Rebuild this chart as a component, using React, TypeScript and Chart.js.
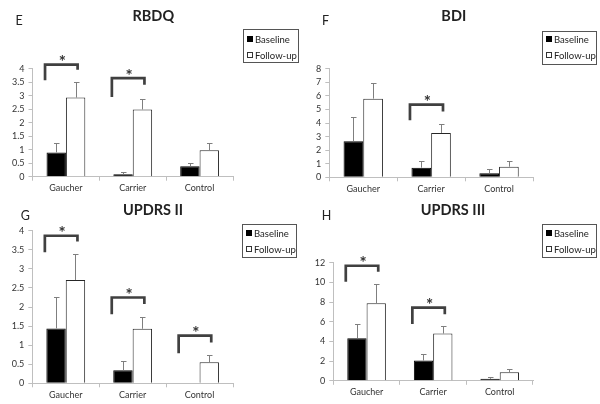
import React, { useEffect, useRef } from "react";
import { Chart, registerables } from "chart.js";

Chart.register(...registerables);

const categories = ["Gaucher", "Carrier", "Control"];
const seriesNames = ["Baseline", "Follow-up"];

// RBDQ
const rbdqBaseline = [0.9, 0.09, 0.39];
const rbdqBaselineSd = [0.33, 0.09, 0.13];
const rbdqFollowup = [2.93, 2.49, 0.98];
const rbdqFollowupSd = [0.56, 0.4, 0.27];
const rbdqBrackets = [
  [0, 4.15, 3.57, 3.96],
  [1, 3.65, 2.95, 3.41],
];

// BDI
const bdiBaseline = [2.66, 0.71, 0.29];
const bdiBaselineSd = [1.81, 0.46, 0.32];
const bdiFollowup = [5.8, 3.27, 0.78];
const bdiFollowupSd = [1.17, 0.69, 0.39];
const bdiBrackets = [[1, 5.36, 4.2, 4.86]];

// UPDRS II
const updrs2Baseline = [1.44, 0.34, 0];
const updrs2BaselineSd = [0.83, 0.24, 0];
const updrs2Followup = [2.71, 1.43, 0.55];
const updrs2FollowupSd = [0.68, 0.32, 0.18];
const updrs2Brackets = [
  [0, 3.87, 3.44, 3.72],
  [1, 2.25, 1.81, 2.08],
  [2, 1.25, 0.79, 1.07],
];

// UPDRS III
const updrs3Baseline = [4.33, 2.06, 0.2];
const updrs3BaselineSd = [1.42, 0.68, 0.14];
const updrs3Followup = [7.88, 4.8, 0.88];
const updrs3FollowupSd = [1.92, 0.78, 0.31];
const updrs3Brackets = [
  [0, 11.69, 10.07, 11.08],
  [1, 7.43, 5.78, 6.76],
];

const FONT = "Lato, 'Open Sans', sans-serif";
const Y_W = 24;
const X_H = 20;

type PanelDef = {
  letter: string;
  title: string;
  x: number;
  y: number;
  w: number;
  h: number;
  area: { left: number; right: number; top: number; bottom: number };
  yMax: number;
  yStep: number;
  baseline: number[];
  baselineSd: number[];
  followup: number[];
  followupSd: number[];
  brackets: number[][];
  letterPos: [number, number];
  titlePos: [number, number];
  legendBox: [number, number, number, number];
  legendRows: [number, number];
};

const panels: PanelDef[] = [
  {
    letter: "E", title: "RBDQ", x: 0, y: 0, w: 300, h: 200,
    area: { left: 32.5, right: 233, top: 68.7, bottom: 176.7 },
    yMax: 4, yStep: 0.5,
    baseline: rbdqBaseline, baselineSd: rbdqBaselineSd,
    followup: rbdqFollowup, followupSd: rbdqFollowupSd,
    brackets: rbdqBrackets,
    letterPos: [15.5, 21], titlePos: [153.3, 16.7],
    legendBox: [242.7, 29.3, 55, 33.4], legendRows: [39, 55],
  },
  {
    letter: "F", title: "BDI", x: 300, y: 0, w: 300, h: 200,
    area: { left: 29.3, right: 233, top: 68.8, bottom: 177.3 },
    yMax: 8, yStep: 1,
    baseline: bdiBaseline, baselineSd: bdiBaselineSd,
    followup: bdiFollowup, followupSd: bdiFollowupSd,
    brackets: bdiBrackets,
    letterPos: [22, 20.5], titlePos: [153.8, 16.8],
    legendBox: [241.7, 31, 54.3, 33.3], legendRows: [38.5, 55],
  },
  {
    letter: "G", title: "UPDRS II", x: 0, y: 200, w: 300, h: 204,
    area: { left: 32.3, right: 233, top: 30.8, bottom: 183.3 },
    yMax: 4, yStep: 0.5,
    baseline: updrs2Baseline, baselineSd: updrs2BaselineSd,
    followup: updrs2Followup, followupSd: updrs2FollowupSd,
    brackets: updrs2Brackets,
    letterPos: [20.7, 15.5], titlePos: [153, 10],
    legendBox: [241.7, 24, 54.3, 33.3], legendRows: [33.3, 49.3],
  },
  {
    letter: "H", title: "UPDRS III", x: 300, y: 200, w: 300, h: 204,
    area: { left: 33.3, right: 233, top: 62.7, bottom: 180.8 },
    yMax: 12, yStep: 2,
    baseline: updrs3Baseline, baselineSd: updrs3BaselineSd,
    followup: updrs3Followup, followupSd: updrs3FollowupSd,
    brackets: updrs3Brackets,
    letterPos: [21.7, 16.2], titlePos: [153, 10.3],
    legendBox: [241.7, 24, 54.3, 33.3], legendRows: [33.3, 49.3],
  },
];

function makeOverlay(p: PanelDef) {
  return {
    id: "overlay" + p.letter,
    afterDraw(chart: any) {
      const ctx: CanvasRenderingContext2D = chart.ctx;
      const ys = chart.scales.y;
      ctx.save();
      // error bars
      const sds = [p.baselineSd, p.followupSd];
      const vals = [p.baseline, p.followup];
      ctx.strokeStyle = "#7f7f7f";
      ctx.lineWidth = 1;
      for (let d = 0; d < 2; d++) {
        const meta = chart.getDatasetMeta(d);
        meta.data.forEach((el: any, j: number) => {
          const sd = sds[d][j];
          if (!sd) return;
          const x = Math.round(el.x) + 0.5;
          const yTop = Math.round(ys.getPixelForValue(vals[d][j] + sd)) + 0.5;
          const yBar = ys.getPixelForValue(vals[d][j]);
          ctx.beginPath();
          ctx.moveTo(x, yBar);
          ctx.lineTo(x, yTop);
          ctx.moveTo(x - 2.5, yTop);
          ctx.lineTo(x + 3, yTop);
          ctx.stroke();
        });
      }
      // brackets
      const m0 = chart.getDatasetMeta(0);
      const m1 = chart.getDatasetMeta(1);
      p.brackets.forEach((b) => {
        const [cat, top, lb, rb] = b;
        const e0: any = m0.data[cat];
        const e1: any = m1.data[cat];
        const left = e0.x - e0.width / 2 - 1.5;
        const right = e1.x + 2;
        const yT = ys.getPixelForValue(top);
        ctx.strokeStyle = "#404040";
        ctx.lineWidth = 2.7;
        ctx.lineJoin = "miter";
        ctx.beginPath();
        ctx.moveTo(left, ys.getPixelForValue(lb));
        ctx.lineTo(left, yT);
        ctx.lineTo(right, yT);
        ctx.lineTo(right, ys.getPixelForValue(rb));
        ctx.stroke();
        ctx.fillStyle = "#333333";
        ctx.font = `bold 17px ${FONT}`;
        ctx.textAlign = "center";
        ctx.textBaseline = "alphabetic";
        const m = ctx.measureText("*");
        const cy = yT - 6.5;
        const base = cy + (m.actualBoundingBoxAscent - m.actualBoundingBoxDescent) / 2;
        ctx.fillText("*", (left + right) / 2 + 1, base);
      });
      // panel letter
      ctx.fillStyle = "#222222";
      ctx.font = `12.5px ${FONT}`;
      ctx.textAlign = "left";
      ctx.textBaseline = "middle";
      ctx.fillText(p.letter, p.letterPos[0], p.letterPos[1]);
      // title
      ctx.font = `bold 14.5px ${FONT}`;
      ctx.textAlign = "center";
      ctx.fillText(p.title, p.titlePos[0], p.titlePos[1]);
      // legend
      const [lx, ly, lw, lh] = p.legendBox;
      ctx.strokeStyle = "#555555";
      ctx.lineWidth = 1;
      ctx.strokeRect(Math.round(lx) + 0.5, Math.round(ly) + 0.5, Math.round(lw), Math.round(lh));
      ctx.font = `9.5px ${FONT}`;
      ctx.textAlign = "left";
      ctx.textBaseline = "middle";
      seriesNames.forEach((name, i) => {
        const ry = Math.round(p.legendRows[i]);
        const sx = Math.round(lx) + 4;
        if (i === 0) {
          ctx.fillStyle = "#000000";
          ctx.fillRect(sx, ry - 3, 6, 6);
        } else {
          ctx.strokeStyle = "#333333";
          ctx.strokeRect(sx + 0.5, ry - 2.5, 5, 5);
        }
        ctx.fillStyle = "#222222";
        ctx.fillText(name, sx + 8, ry + 0.5);
      });
      ctx.restore();
    },
  };
}

function Panel({ p }: { p: PanelDef }) {
  const ref = useRef<HTMLCanvasElement | null>(null);
  useEffect(() => {
    if (!ref.current) return;
    const gridColor = "#bfbfbf";
    const tickFont = { family: FONT, size: 9 };
    const chart = new Chart(ref.current, {
      type: "bar",
      data: {
        labels: categories,
        datasets: [
          {
            label: seriesNames[0],
            data: p.baseline,
            backgroundColor: "#000000",
            borderColor: "#000000",
            borderWidth: 1,
            categoryPercentage: 0.58,
            barPercentage: 1.0,
          },
          {
            label: seriesNames[1],
            data: p.followup,
            backgroundColor: "#ffffff",
            borderColor: "#262626",
            borderWidth: 1,
            categoryPercentage: 0.58,
            barPercentage: 1.0,
          },
        ],
      },
      options: {
        responsive: false,
        animation: false,
        devicePixelRatio: 1,
        layout: {
          padding: {
            left: p.area.left - Y_W,
            right: p.w - p.area.right,
            top: p.area.top,
            bottom: p.h - p.area.bottom - X_H,
          },
        },
        plugins: {
          legend: { display: false },
          title: { display: false },
          tooltip: { enabled: false },
        },
        scales: {
          x: {
            grid: {
              display: true,
              drawOnChartArea: false,
              drawTicks: true,
              tickLength: 4,
              color: gridColor,
              offset: true,
            },
            border: { color: gridColor },
            ticks: { color: "#333333", font: tickFont, padding: 2, maxRotation: 0 },
            afterFit: (s: any) => {
              s.height = X_H;
            },
          },
          y: {
            min: 0,
            max: p.yMax,
            grid: {
              display: true,
              drawOnChartArea: false,
              drawTicks: true,
              tickLength: 4,
              color: gridColor,
            },
            border: { color: gridColor },
            ticks: {
              stepSize: p.yStep,
              autoSkip: false,
              color: "#333333",
              font: tickFont,
              padding: 4,
              callback: (v: any) => String(Math.round(Number(v) * 100) / 100),
            },
            afterFit: (s: any) => {
              s.width = Y_W;
            },
          },
        },
      } as any,
      plugins: [makeOverlay(p)],
    });
    return () => chart.destroy();
  }, [p]);
  return (
    <canvas
      ref={ref}
      width={p.w}
      height={p.h}
      style={{ position: "absolute", left: p.x, top: p.y, width: p.w, height: p.h }}
    />
  );
}

export default function App() {
  return (
    <div
      style={{
        position: "absolute",
        left: 0,
        top: 0,
        width: 600,
        height: 404,
        background: "#ffffff",
        overflow: "hidden",
      }}
    >
      {panels.map((p) => (
        <Panel key={p.letter} p={p} />
      ))}
    </div>
  );
}
